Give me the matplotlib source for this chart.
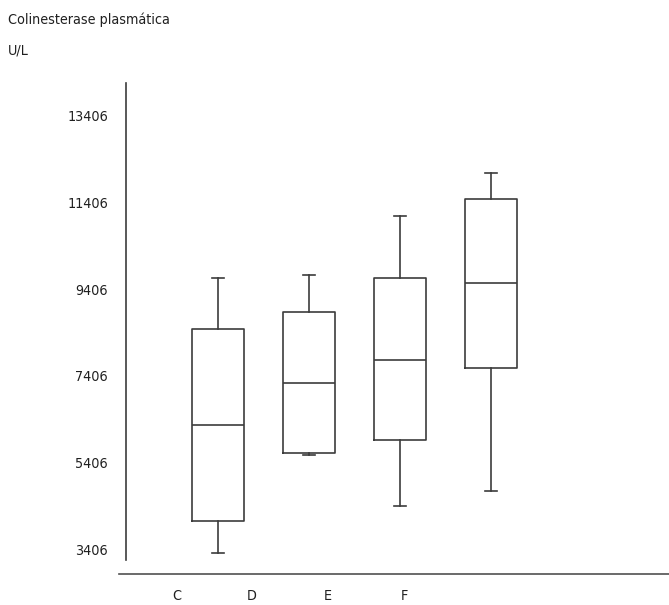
import matplotlib.pyplot as plt
from matplotlib.lines import Line2D

# valores (U/L)
groups = ["C", "D", "E", "F"]
whislo = [3337, 5590, 4418, 4762]
q1 = [4073, 5636, 5935, 7590]
med = [6280, 7245, 7774, 9544]
q3 = [8487, 8878, 9659, 11475]
whishi = [9659, 9728, 11085, 12073]
yticks = [3406, 5406, 7406, 9406, 11406, 13406]
label_pos = [0.55, 1.37, 2.21, 3.05]

plt.rcParams['font.family'] = ['DejaVu Sans']
plt.rcParams['font.stretch'] = 'condensed'
col = '#3c3c3c'

fig = plt.figure(figsize=(6.69, 6.05), dpi=100)
W, H = 669, 605
ax = fig.add_axes([126 / W, 1 - 574 / H, (669 - 126) / W, (574 - 83) / H])

stats = []
for i, g in enumerate(groups):
    stats.append(dict(label=g, whislo=whislo[i], q1=q1[i], med=med[i],
                      q3=q3[i], whishi=whishi[i], fliers=[]))

lp = dict(color=col, linewidth=1.2)
ax.bxp(stats, positions=[1, 2, 3, 4], widths=0.58, capwidths=0.14,
       showfliers=False, boxprops=lp, medianprops=lp, whiskerprops=lp,
       capprops=lp, manage_ticks=False)

ax.set_xlim(-0.011, 5.956)
ax.set_ylim(2854, 14142)
ax.set_yticks(yticks)
ax.set_yticklabels([str(v) for v in yticks])
ax.set_xticks(label_pos)
ax.set_xticklabels(groups)
ax.tick_params(axis='y', length=0, pad=13, labelsize=10.3, colors='#202020')
ax.tick_params(axis='x', length=0, pad=11, labelsize=10.3, colors='#202020')

for s in ['top', 'right', 'bottom']:
    ax.spines[s].set_visible(False)
ax.spines['left'].set_color(col)
ax.spines['left'].set_linewidth(1.2)
ax.spines['left'].set_bounds(3176, 14142)

# línea base
fig.add_artist(Line2D([119 / W, 1], [1 - 574 / H] * 2, color='#505050',
                      linewidth=1.2, transform=fig.transFigure))

fig.text(8 / W, 1 - 20 / H, "Colinesterase plasmática", fontsize=10.3,
         va='center', ha='left', color='#202020')
fig.text(8 / W, 1 - 51 / H, "U/L", fontsize=10.3, va='center', ha='left',
         color='#202020')

fig.savefig("out.png", dpi=100)
